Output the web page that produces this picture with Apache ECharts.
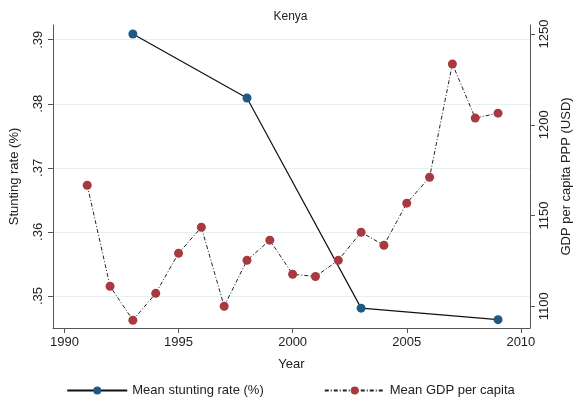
<!DOCTYPE html>
<html>
<head>
<meta charset="utf-8">
<script src="https://cdn.jsdelivr.net/npm/echarts@6/dist/echarts.min.js"></script>
<style>html,body{margin:0;padding:0;background:#fff}#c{width:581px;height:410px}</style>
</head>
<body>
<div id="c"></div>
<script>
// 数据
const stuntYears = [1993, 1998, 2003, 2009];
const stuntValues = [0.3909, 0.3809, 0.3481, 0.3463];
const gdpYears = [1991, 1992, 1993, 1994, 1995, 1996, 1997, 1998, 1999, 2000,
  2001, 2002, 2003, 2004, 2005, 2006, 2007, 2008, 2009];
const gdpValues = [1166.7, 1111, 1092.3, 1107.1, 1129.2, 1143.5, 1100, 1125.3, 1136.4, 1117.6,
  1116.4, 1125.3, 1140.8, 1133.6, 1156.8, 1171.1, 1233.5, 1203.7, 1206.4];
const xTicks = [1990, 1995, 2000, 2005, 2010];
const leftTicks = [0.35, 0.36, 0.37, 0.38, 0.39];
const rightTicks = [1100, 1150, 1200, 1250];

const font = 'Liberation Sans';
const axisColor = '#555';
const chart = echarts.init(document.getElementById('c'));

chart.setOption({
  animation: false,
  textStyle: { fontFamily: font },
  title: {
    text: 'Kenya', left: 'center', top: 6,
    textStyle: { fontSize: 12, fontWeight: 'normal', color: '#222', fontFamily: font }
  },
  grid: { left: 52, right: 44, top: 25, bottom: 82 },
  legend: {
    bottom: 8, left: 'center', itemGap: 60, itemWidth: 60, itemHeight: 10,
    textStyle: { fontSize: 13, color: '#222' },
    data: ['Mean stunting rate (%)', 'Mean GDP per capita']
  },
  xAxis: {
    type: 'value', min: 1989.5, max: 2010.4,
    name: 'Year', nameLocation: 'middle', nameGap: 30,
    nameTextStyle: { fontSize: 13, color: '#222' },
    axisLine: { show: true, onZero: false, lineStyle: { color: axisColor } },
    axisTick: { show: true, customValues: xTicks, length: 5, lineStyle: { color: axisColor } },
    axisLabel: { customValues: xTicks, fontSize: 13, color: '#222', margin: 8, formatter: v => String(v) },
    splitLine: { show: false }
  },
  yAxis: [
    {
      type: 'value', min: 0.345, max: 0.3923, position: 'left',
      name: 'Stunting rate (%)', nameLocation: 'middle', nameGap: 32,
      nameTextStyle: { fontSize: 13, color: '#222' },
      axisLine: { show: true, lineStyle: { color: axisColor } },
      axisTick: { show: true, customValues: leftTicks, length: 5, lineStyle: { color: axisColor } },
      axisLabel: {
        customValues: leftTicks, rotate: 90, fontSize: 13, color: '#222', margin: 8,
        formatter: v => v.toFixed(2).replace(/^0/, '')
      },
      splitLine: { show: true, lineStyle: { color: '#e6f0ef' } }
    },
    {
      type: 'value', min: 1088, max: 1255, position: 'right',
      name: 'GDP per capita PPP (USD)', nameLocation: 'middle', nameGap: 30,
      nameRotate: 90,
      nameTextStyle: { fontSize: 13, color: '#222' },
      axisLine: { show: true, lineStyle: { color: axisColor } },
      axisTick: { show: true, customValues: rightTicks, length: 5, lineStyle: { color: axisColor } },
      axisLabel: { customValues: rightTicks, rotate: 90, fontSize: 13, color: '#222', margin: 8, formatter: v => String(v) },
      splitLine: { show: false }
    }
  ],
  series: [
    {
      name: 'Mean stunting rate (%)', type: 'line', yAxisIndex: 0,
      data: stuntYears.map((y, i) => [y, stuntValues[i]]),
      symbol: 'circle', symbolSize: 9,
      itemStyle: { color: '#1f5a85' },
      lineStyle: { color: '#111', width: 1.2 }
    },
    {
      name: 'Mean GDP per capita', type: 'line', yAxisIndex: 1,
      data: gdpYears.map((y, i) => [y, gdpValues[i]]),
      symbol: 'circle', symbolSize: 9,
      itemStyle: { color: '#a83a3f' },
      lineStyle: { color: '#222', width: 1, type: [4, 2, 1, 2] }
    }
  ]
});
</script>
</body>
</html>
